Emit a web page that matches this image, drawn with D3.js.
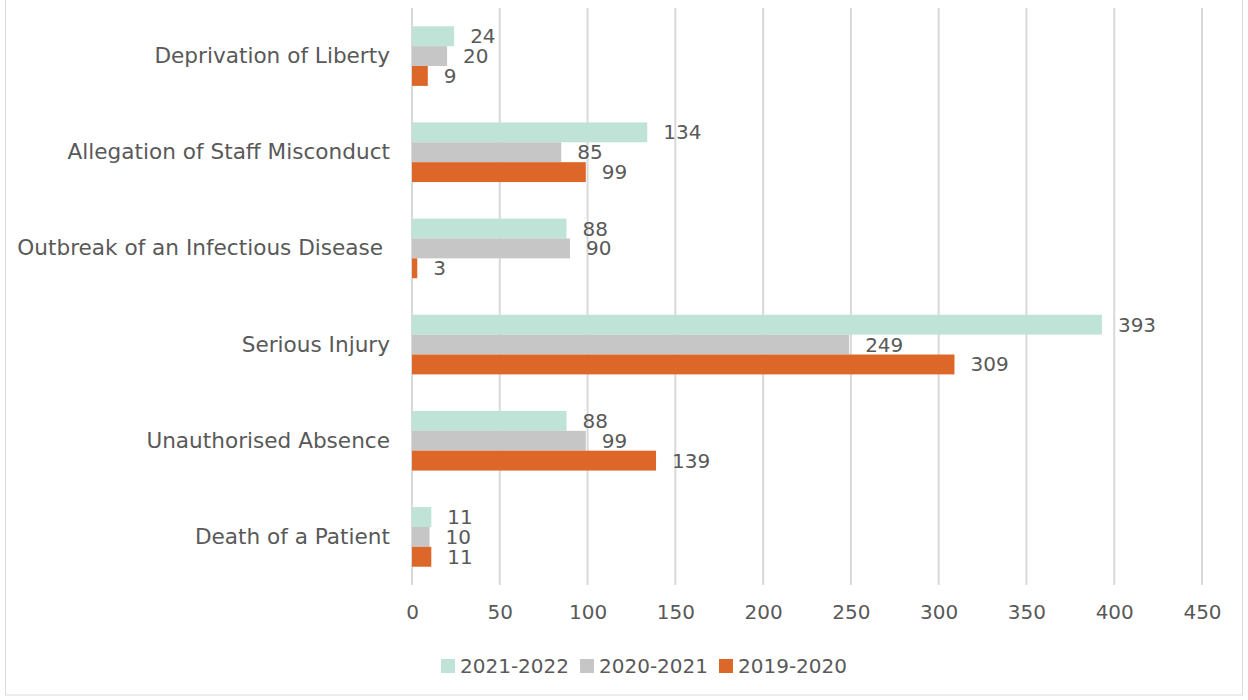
<!DOCTYPE html>
<html>
<head>
<meta charset="utf-8">
<script src="https://cdn.jsdelivr.net/npm/d3@7"></script>
<style>
  body { margin: 0; background: #fff; }
  svg text { font-family: "DejaVu Sans", sans-serif; fill: #595959; }
</style>
</head>
<body>
<div id="chart"></div>
<script>
// data
var categories = ["Deprivation of Liberty", "Allegation of Staff Misconduct", "Outbreak of an Infectious Disease ",
    "Serious Injury", "Unauthorised Absence", "Death of a Patient"];
var seriesNames = ["2021-2022", "2020-2021", "2019-2020"];
var v2021 = [24, 134, 88, 393, 88, 11];
var v2020 = [20, 85, 90, 249, 99, 10];
var v2019 = [9, 99, 3, 309, 139, 11];
var xTicks = [0, 50, 100, 150, 200, 250, 300, 350, 400, 450];
var colors = ["#c0e3d8", "#c6c6c6", "#dd6629"];

var series = [v2021, v2020, v2019];

var w = 1248, h = 700;
var plotL = 412, plotR = 1202, plotT = 8, plotB = 585;

var svg = d3.select("#chart").append("svg")
    .attr("width", w)
    .attr("height", h);

// chart border
svg.append("rect")
    .attr("x", 5.5).attr("y", -1)
    .attr("width", w - 11).attr("height", h - 4)
    .attr("fill", "none")
    .attr("stroke", "#d9d9d9");

var x = d3.scaleLinear().domain([0, 450]).range([plotL, plotR]);
var y = d3.scaleBand().domain(categories).range([plotT, plotB])
    .paddingInner(0.38).paddingOuter(0.19);
var yInner = d3.scaleBand().domain(d3.range(3)).range([0, y.bandwidth()]);

// gridlines
svg.append("g").selectAll("line")
    .data(xTicks)
    .enter()
    .append("line")
    .attr("x1", function(d) { return x(d) })
    .attr("x2", function(d) { return x(d) })
    .attr("y1", plotT)
    .attr("y2", plotB)
    .style("stroke", "#d9d9d9")
    .style("stroke-width", 2);

// x axis labels
var xAxis = svg.append("g")
    .attr("transform", "translate(0," + plotB + ")")
    .call(d3.axisBottom(x).tickValues(xTicks).tickSize(0).tickPadding(20));
xAxis.select(".domain").remove();
xAxis.selectAll("text")
    .style("font-size", "20px")
    .attr("fill", "#595959");

// y axis labels
var yAxis = svg.append("g")
    .attr("transform", "translate(" + plotL + ",0)")
    .call(d3.axisLeft(y).tickSize(0).tickPadding(22));
yAxis.select(".domain").remove();
yAxis.selectAll("text")
    .style("font-size", "21.6px")
    .style("white-space", "pre")
    .attr("fill", "#595959");

// bars
series.forEach(function(vals, s) {
    var g = svg.append("g");
    g.selectAll("rect")
        .data(vals)
        .enter()
        .append("rect")
        .attr("x", x(0))
        .attr("y", function(d, i) { return y(categories[i]) + yInner(s) })
        .attr("width", function(d) { return x(d) - x(0) })
        .attr("height", yInner.bandwidth())
        .attr("fill", colors[s]);

    g.selectAll("text")
        .data(vals)
        .enter()
        .append("text")
        .attr("x", function(d) { return x(d) + 16 })
        .attr("y", function(d, i) { return y(categories[i]) + yInner(s) + yInner.bandwidth() / 2 })
        .attr("dy", "0.35em")
        .style("font-size", "20px")
        .attr("fill", "#404040")
        .text(function(d) { return d });
});

// legend
var legendX = [441, 580, 719];
var legend = svg.append("g").selectAll("g")
    .data(seriesNames)
    .enter()
    .append("g")
    .attr("transform", function(d, i) { return "translate(" + legendX[i] + ",659)" });
legend.append("rect")
    .attr("width", 14).attr("height", 14)
    .attr("fill", function(d, i) { return colors[i] });
legend.append("text")
    .attr("x", 19).attr("y", 7)
    .attr("dy", "0.35em")
    .style("font-size", "20px")
    .text(function(d) { return d });
</script>
</body>
</html>
